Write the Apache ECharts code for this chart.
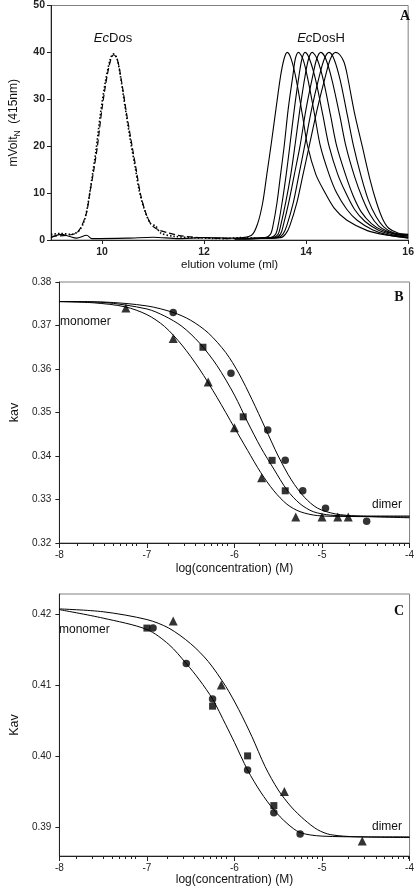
<!DOCTYPE html>
<html><head><meta charset="utf-8">
<script src="https://cdn.jsdelivr.net/npm/echarts@6/dist/echarts.min.js"></script>
<style>html,body{margin:0;padding:0;background:#fff}#c{width:417px;height:887px}</style>
</head><body><div id="c"></div>
<script>
// ---------- Panel A: elution profiles [volume (ml), mVolt] ----------
const aTicksX = [10, 12, 14, 16];
const aTicksY = [0, 10, 20, 30, 40, 50];
const dosDash = [[9.0,0.8],[9.3,1.0],[9.5,1.5],[9.6,3],[9.7,6],[9.76,10],[9.84,15],[9.91,20],[10.0,28],[10.1,35],[10.18,38.8],[10.23,39.5],[10.3,38.5],[10.38,34],[10.48,27],[10.59,20],[10.67,15],[10.75,10],[10.85,6],[10.97,3.2],[11.1,2.2],[11.3,1.5],[11.5,1.0],[11.8,0.6],[12.2,0.4],[12.5,0.3]];
const dosDot = [[9.0,1.2],[9.2,1.4],[9.4,1.2],[9.55,2],[9.65,4],[9.73,8],[9.8,13],[9.88,19],[9.97,27],[10.07,34],[10.16,38.5],[10.22,39.7],[10.29,38.8],[10.36,35],[10.45,28.5],[10.56,21],[10.65,15.5],[10.73,10.5],[10.83,6.5],[10.95,3.5],[11.05,3],[11.15,1.5],[11.4,0.8],[11.8,0.5],[12.4,0.3],[12.7,0.5],[13.0,0.4]];
const dosH1 = [[9.0,0.5],[9.2,1.2],[9.35,0.8],[9.5,0.4],[9.7,1.0],[9.8,0.3],[10.5,0.4],[11.0,0.6],[11.5,0.3],[12.0,0.5],[12.6,0.4],[12.93,1],[13.05,3.5],[13.15,8],[13.23,14],[13.31,20],[13.41,28],[13.5,35],[13.57,38.7],[13.63,40],[13.71,38.5],[13.81,34],[13.93,26.5],[14.03,20],[14.19,14],[14.35,10.5],[14.55,6.8],[14.8,4.2],[15.2,2],[15.6,1],[16.0,0.4]];
const dosH2 = [[12.6,0.3],[13.2,0.5],[13.3,1.2],[13.35,3],[13.43,8],[13.5,14],[13.57,20],[13.65,28],[13.74,35],[13.79,38.7],[13.85,40],[13.94,38.5],[14.04,34],[14.17,26.5],[14.28,20],[14.45,14],[14.6,10],[14.8,6.5],[15.0,4.2],[15.3,2.2],[15.6,1.1],[16.0,0.5]];
const dosH3 = [[12.6,0.3],[13.3,0.5],[13.4,1.2],[13.45,3],[13.53,8],[13.61,14],[13.68,20],[13.77,28],[13.86,35],[13.92,38.7],[13.98,40],[14.07,38.5],[14.19,34],[14.33,26.5],[14.45,20],[14.62,14],[14.78,10],[14.95,6.5],[15.15,4],[15.4,2.2],[15.7,1.1],[16.0,0.6]];
const dosH4 = [[12.6,0.3],[13.35,0.5],[13.45,1.2],[13.5,3],[13.6,8],[13.7,14],[13.78,20],[13.88,28],[13.98,35],[14.05,38.7],[14.12,40],[14.22,38.5],[14.34,34],[14.48,26.5],[14.6,20],[14.77,14],[14.92,9.5],[15.08,6],[15.28,3.5],[15.5,2],[15.75,1.2],[16.0,0.8]];
const dosH5 = [[12.6,0.3],[13.4,0.5],[13.5,1.3],[13.55,3],[13.66,8],[13.77,14],[13.88,20],[14.0,28],[14.13,35],[14.21,38.7],[14.29,40],[14.39,38.5],[14.51,34],[14.66,26.5],[14.78,20],[14.95,13.5],[15.1,9],[15.25,5.5],[15.42,3],[15.6,1.8],[15.8,1.2],[16.0,1.0]];
const dosH6 = [[12.6,0.3],[13.45,0.5],[13.55,1.3],[13.62,3],[13.75,8],[13.86,14],[13.97,20],[14.11,28],[14.26,35],[14.36,38.7],[14.45,40],[14.55,38.5],[14.67,34],[14.81,26.5],[14.93,20],[15.08,13.5],[15.22,8.5],[15.37,5],[15.52,2.8],[15.7,1.6],[16.0,1.0]];
const dosH7 = [[12.6,0.3],[13.5,0.5],[13.6,1.3],[13.68,3],[13.82,8],[13.94,14],[14.06,20],[14.22,28],[14.38,35],[14.48,38.7],[14.58,40],[14.66,39.5],[14.74,38],[14.8,35.5],[14.95,27],[15.1,20],[15.25,13],[15.38,8],[15.5,4.5],[15.62,2.5],[15.8,1.5],[16.0,1.2]];

// ---------- Panel B: kav vs log(concentration) ----------
const bTicksY = [0.32, 0.33, 0.34, 0.35, 0.36, 0.37, 0.38];
const bTriX = [-7.24,-6.7,-6.3,-6.0,-5.69,-5.3,-5.0,-4.82,-4.7];
const bTriY = [0.374,0.367,0.357,0.3465,0.335,0.326,0.326,0.326,0.326];
const bSqX = [-6.36,-5.9,-5.57,-5.42];
const bSqY = [0.365,0.349,0.339,0.332];
const bCircX = [-6.7,-6.04,-5.62,-5.42,-5.22,-4.96,-4.49];
const bCircY = [0.373,0.359,0.346,0.339,0.332,0.328,0.325];
const bFitTri = [[-8,0.3755],[-7.6,0.3752],[-7.25,0.3743],[-7.0,0.3725],[-6.8,0.3698],[-6.6,0.3655],[-6.4,0.3600],[-6.2,0.3535],[-6.0,0.3465],[-5.85,0.3413],[-5.7,0.3362],[-5.55,0.3320],[-5.4,0.3289],[-5.25,0.3272],[-5.05,0.3263],[-4.7,0.3261],[-4,0.3260]];
const bFitSq = [[-8,0.3755],[-7.5,0.3753],[-7.0,0.3738],[-6.8,0.3722],[-6.6,0.3698],[-6.4,0.3660],[-6.2,0.3608],[-6.0,0.3540],[-5.85,0.3478],[-5.7,0.3420],[-5.55,0.3370],[-5.4,0.3322],[-5.25,0.3290],[-5.1,0.3272],[-4.9,0.3264],[-4.6,0.3262],[-4,0.3262]];
const bFitCirc = [[-8,0.3755],[-7.5,0.3754],[-7.0,0.3745],[-6.7,0.3730],[-6.5,0.3712],[-6.3,0.3683],[-6.1,0.3638],[-5.95,0.3590],[-5.8,0.3530],[-5.65,0.3465],[-5.5,0.3400],[-5.35,0.3345],[-5.2,0.3305],[-5.05,0.3280],[-4.85,0.3267],[-4.6,0.3262],[-4,0.3258]];

// ---------- Panel C: Kav vs log(concentration) ----------
const cTicksY = [0.39, 0.40, 0.41, 0.42];
const cSqX = [-7.0,-6.25,-5.85,-5.55];
const cSqY = [0.418,0.407,0.400,0.393];
const cCircX = [-6.93,-6.55,-6.25,-5.85,-5.55,-5.25];
const cCircY = [0.418,0.413,0.408,0.398,0.392,0.389];
const cTriX = [-6.7,-6.15,-5.43,-4.54];
const cTriY = [0.419,0.410,0.395,0.388];
const cFitLeft = [[-8,0.4206],[-7.5,0.4194],[-7.0,0.4178],[-6.75,0.4157],[-6.55,0.4130],[-6.4,0.4107],[-6.25,0.4080],[-6.1,0.4044],[-6.0,0.4019],[-5.85,0.3980],[-5.7,0.3949],[-5.55,0.3924],[-5.4,0.3905],[-5.25,0.3892],[-5.0,0.3887],[-4.5,0.3886],[-4,0.3886]];
const cFitRight = [[-8,0.4207],[-7.5,0.4203],[-7.0,0.4192],[-6.75,0.4180],[-6.5,0.4158],[-6.3,0.4133],[-6.1,0.4098],[-5.95,0.4065],[-5.8,0.4027],[-5.65,0.3985],[-5.5,0.3952],[-5.35,0.3928],[-5.2,0.3910],[-5.05,0.3896],[-4.9,0.3889],[-4.6,0.3886],[-4,0.3885]];

const logTicksMajor = [-8, -7, -6, -5, -4];

// ---------- build ----------
const zip = (xs, ys) => xs.map((x, i) => [x, ys[i]]);
const minorLog = [];
for (let d = -8; d < -4; d++) for (let k = 2; k <= 9; k++) minorLog.push(d + Math.log10(k));

const SANS = 'Liberation Sans, Arial, sans-serif';
const SERIF = 'Liberation Serif, Times New Roman, serif';
const INK = '#111';
const frame = { show: true, borderColor: '#808080', borderWidth: 1, backgroundColor: 'transparent' };

function majorX(grid, name, gap) {
  return {
    gridIndex: grid, type: 'value', position: 'bottom', min: -8, max: -4,
    axisLine: { show: true, onZero: false, lineStyle: { color: '#222', width: 1 } },
    axisTick: { show: true, customValues: logTicksMajor, length: 5, lineStyle: { color: '#222' } },
    axisLabel: { customValues: logTicksMajor, fontSize: 10, color: '#222', fontFamily: SANS, margin: 7 },
    splitLine: { show: false },
    name: name, nameLocation: 'middle', nameGap: gap,
    nameTextStyle: { fontSize: 12, color: INK, fontFamily: SANS }
  };
}
function minorX(grid) {
  return {
    gridIndex: grid, type: 'value', position: 'bottom', min: -8, max: -4,
    axisLine: { show: true, onZero: false, lineStyle: { color: 'rgba(0,0,0,0)' } },
    axisLabel: { show: false, customValues: minorLog }, splitLine: { show: false },
    axisTick: { show: true, customValues: minorLog, length: 3, lineStyle: { color: '#222' } }
  };
}
function hiddenY(grid) {
  return { gridIndex: grid, type: 'value', min: 0, max: 1, show: false };
}
function fitLine(data, xi, yi) {
  return { type: 'line', data: data, xAxisIndex: xi, yAxisIndex: yi, showSymbol: false, symbol: 'none',
    smooth: 0.3, lineStyle: { color: '#000', width: 1 }, z: 3, silent: true };
}
function marks(data, xi, yi, sym, size) {
  return { type: 'scatter', data: data, xAxisIndex: xi, yAxisIndex: yi, symbol: sym, symbolSize: size,
    itemStyle: { color: '#000' }, z: 5, silent: true };
}
function chrom(data, style) {
  return { type: 'line', data: data, xAxisIndex: 0, yAxisIndex: 0, showSymbol: false, symbol: 'none',
    smooth: 0.3, lineStyle: Object.assign({ color: '#000', width: 1.1 }, style || {}), silent: true };
}

const option = {
  animation: false,
  backgroundColor: '#fff',
  grid: [
    Object.assign({ left: 50, right: 6, top: 4, height: 236 }, frame),
    Object.assign({ left: 50, right: 4, top: 282, height: 261 }, frame),
    Object.assign({ left: 49, right: 5, top: 594, height: 262 }, frame),
    { left: 50, right: 4, top: 282, height: 261, show: false },
    { left: 49, right: 5, top: 594, height: 262, show: false }
  ],
  xAxis: [
    {
      gridIndex: 0, type: 'value', position: 'bottom', min: 9, max: 16,
      axisLine: { show: true, onZero: false, lineStyle: { color: '#222' } },
      axisTick: { show: true, customValues: aTicksX, length: 4, lineStyle: { color: '#222' } },
      axisLabel: { customValues: aTicksX, fontSize: 10.5, fontWeight: 'bold', color: '#222', fontFamily: SANS, margin: 7 },
      splitLine: { show: false },
      name: 'elution volume (ml)', nameLocation: 'middle', nameGap: 17,
      nameTextStyle: { fontSize: 11.5, color: INK, fontFamily: SANS }
    },
    majorX(1, 'log(concentration) (M)', 20),
    minorX(3),
    majorX(2, 'log(concentration) (M)', 18),
    minorX(4)
  ],
  yAxis: [
    {
      gridIndex: 0, type: 'value', min: 0, max: 50,
      axisLine: { show: true, onZero: false, lineStyle: { color: '#222' } },
      axisTick: { show: true, customValues: aTicksY, length: 4, lineStyle: { color: '#222' } },
      axisLabel: { customValues: aTicksY, fontSize: 10.5, fontWeight: 'bold', color: '#222', fontFamily: SANS, margin: 6 },
      splitLine: { show: false },
      name: 'mVolt{s|N}  (415nm)', nameLocation: 'middle', nameGap: 29, nameRotate: 90,
      nameTextStyle: { fontSize: 12, color: INK, fontFamily: SANS,
        rich: { s: { fontSize: 8.5, fontFamily: SANS, color: INK, padding: [7, 0, 0, 0] } } }
    },
    {
      gridIndex: 1, type: 'value', min: 0.32, max: 0.38,
      axisLine: { show: true, onZero: false, lineStyle: { color: '#222' } },
      axisTick: { show: true, customValues: bTicksY, length: 4, lineStyle: { color: '#222' } },
      axisLabel: { customValues: bTicksY, fontSize: 10, color: '#222', fontFamily: SANS, margin: 8, formatter: v => v.toFixed(2) },
      splitLine: { show: false },
      name: 'kav', nameLocation: 'middle', nameGap: 30, nameRotate: 90,
      nameTextStyle: { fontSize: 12.5, color: INK, fontFamily: SANS }
    },
    {
      gridIndex: 2, type: 'value', min: 0.3859, max: 0.4228,
      axisLine: { show: true, onZero: false, lineStyle: { color: '#222' } },
      axisTick: { show: true, customValues: cTicksY, length: 4, lineStyle: { color: '#222' } },
      axisLabel: { customValues: cTicksY, fontSize: 10, color: '#222', fontFamily: SANS, margin: 8, formatter: v => v.toFixed(2) },
      splitLine: { show: false },
      name: 'Kav', nameLocation: 'middle', nameGap: 29, nameRotate: 90,
      nameTextStyle: { fontSize: 12.5, color: INK, fontFamily: SANS }
    },
    hiddenY(3),
    hiddenY(4)
  ],
  series: [
    chrom(dosDash, { type: [6, 3], width: 1.2 }),
    chrom(dosDot, { type: [1.5, 2], width: 1.6 }),
    chrom(dosH1), chrom(dosH2), chrom(dosH3), chrom(dosH4), chrom(dosH5), chrom(dosH6), chrom(dosH7),
    fitLine(bFitTri, 1, 1), fitLine(bFitSq, 1, 1), fitLine(bFitCirc, 1, 1),
    marks(zip(bTriX, bTriY), 1, 1, 'triangle', 9),
    marks(zip(bSqX, bSqY), 1, 1, 'rect', 7),
    marks(zip(bCircX, bCircY), 1, 1, 'circle', 7.5),
    fitLine(cFitLeft, 3, 2), fitLine(cFitRight, 3, 2),
    marks(zip(cSqX, cSqY), 3, 2, 'rect', 7),
    marks(zip(cCircX, cCircY), 3, 2, 'circle', 7.5),
    marks(zip(cTriX, cTriY), 3, 2, 'triangle', 9)
  ],
  graphic: [
    { type: 'text', x: 113, y: 38, style: { text: '{i|Ec}Dos', fontSize: 13, fontFamily: SANS, fill: INK, align: 'center', verticalAlign: 'middle',
      rich: { i: { fontStyle: 'italic', fontSize: 13, fontFamily: SANS, color: INK } } } },
    { type: 'text', x: 321, y: 38, style: { text: '{i|Ec}DosH', fontSize: 13, fontFamily: SANS, fill: INK, align: 'center', verticalAlign: 'middle',
      rich: { i: { fontStyle: 'italic', fontSize: 13, fontFamily: SANS, color: INK } } } },
    { type: 'text', x: 405, y: 16, style: { text: 'A', fontSize: 14, fontWeight: 'bold', fontFamily: SERIF, fill: INK, align: 'center', verticalAlign: 'middle' } },
    { type: 'text', x: 399, y: 297, style: { text: 'B', fontSize: 14, fontWeight: 'bold', fontFamily: SERIF, fill: INK, align: 'center', verticalAlign: 'middle' } },
    { type: 'text', x: 399, y: 611, style: { text: 'C', fontSize: 14, fontWeight: 'bold', fontFamily: SERIF, fill: INK, align: 'center', verticalAlign: 'middle' } },
    { type: 'text', x: 60, y: 322, style: { text: 'monomer', fontSize: 12, fontFamily: SANS, fill: INK, align: 'left', verticalAlign: 'middle' } },
    { type: 'text', x: 372, y: 505, style: { text: 'dimer', fontSize: 12, fontFamily: SANS, fill: INK, align: 'left', verticalAlign: 'middle' } },
    { type: 'text', x: 59, y: 630, style: { text: 'monomer', fontSize: 12, fontFamily: SANS, fill: INK, align: 'left', verticalAlign: 'middle' } },
    { type: 'text', x: 372, y: 827, style: { text: 'dimer', fontSize: 12, fontFamily: SANS, fill: INK, align: 'left', verticalAlign: 'middle' } }
  ]
};

const chart = echarts.init(document.getElementById('c'), null, { renderer: 'canvas' });
chart.setOption(option);
</script>
</body></html>
